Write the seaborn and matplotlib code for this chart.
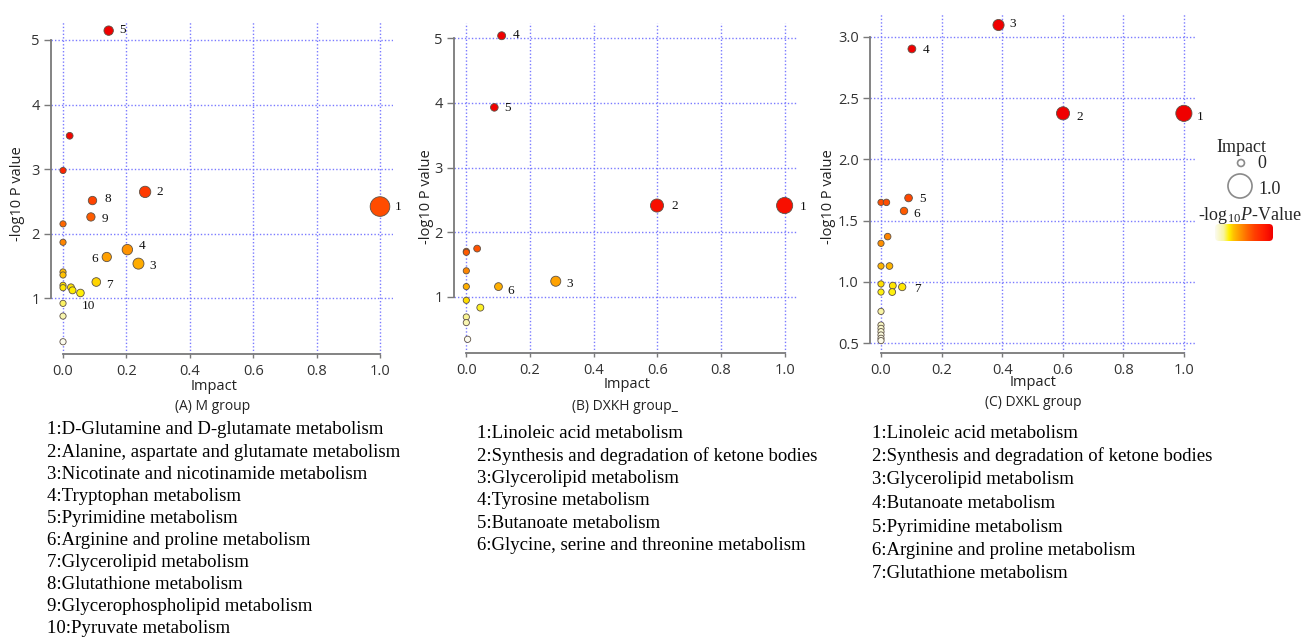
import matplotlib
matplotlib.use("Agg")
import matplotlib.pyplot as plt
import seaborn as sns
import pandas as pd
import numpy as np
from matplotlib.colors import LinearSegmentedColormap
from matplotlib.patches import FancyBboxPatch

# --- values ---
# (A) M group
a_impact = [1.0, 0.259, 0.238, 0.203, 0.144, 0.138, 0.105, 0.093, 0.088, 0.055,
            0.021, 0.0, 0.0, 0.0, 0.0, 0.0, 0.0, 0.0, 0.025, 0.030, 0.0, 0.0, 0.0]
a_logp = [2.418, 2.645, 1.533, 1.750, 5.145, 1.636, 1.248, 2.511, 2.257, 1.078,
          3.515, 2.977, 2.149, 1.864, 1.404, 1.357, 1.197, 1.160, 1.166, 1.119, 0.917, 0.720, 0.322]
a_ids = ["1", "2", "3", "4", "5", "6", "7", "8", "9", "10"]
a_names = ["D-Glutamine and D-glutamate metabolism",
           "Alanine, aspartate and glutamate metabolism",
           "Nicotinate and nicotinamide metabolism",
           "Tryptophan metabolism",
           "Pyrimidine metabolism",
           "Arginine and proline metabolism",
           "Glycerolipid metabolism",
           "Glutathione metabolism",
           "Glycerophospholipid metabolism",
           "Pyruvate metabolism"]

# (B) DXKH group
b_impact = [1.0, 0.599, 0.281, 0.111, 0.088, 0.101,
            0.034, 0.0, 0.0, 0.0, 0.0, 0.0, 0.044, 0.0, 0.0, 0.004]
b_logp = [2.414, 2.414, 1.243, 5.040, 3.932, 1.160,
          1.748, 1.705, 1.690, 1.404, 1.160, 0.948, 0.835, 0.690, 0.603, 0.345]
b_ids = ["1", "2", "3", "4", "5", "6"]
b_names = ["Linoleic acid metabolism",
           "Synthesis and degradation of ketone bodies",
           "Glycerolipid metabolism",
           "Tyrosine metabolism",
           "Butanoate metabolism",
           "Glycine, serine and threonine metabolism"]

# (C) DXKL group
c_impact = [1.0, 0.601, 0.388, 0.102, 0.091, 0.076, 0.070,
            0.0, 0.018, 0.022, 0.0, 0.0, 0.028, 0.0, 0.039, 0.0, 0.037, 0.0,
            0.0, 0.0, 0.0, 0.0, 0.0, 0.0]
c_logp = [2.375, 2.375, 3.095, 2.900, 1.685, 1.579, 0.959,
          1.649, 1.649, 1.370, 1.315, 1.130, 1.130, 0.984, 0.970, 0.918, 0.918, 0.760,
          0.649, 0.622, 0.595, 0.568, 0.541, 0.522]
c_ids = ["1", "2", "3", "4", "5", "6", "7"]
c_names = ["Linoleic acid metabolism",
           "Synthesis and degradation of ketone bodies",
           "Glycerolipid metabolism",
           "Butanoate metabolism",
           "Pyrimidine metabolism",
           "Arginine and proline metabolism",
           "Glutathione metabolism"]

x_ticks = [0.0, 0.2, 0.4, 0.6, 0.8, 1.0]

# --- style ---
sns.set_style("white")
plt.rcParams['font.family'] = ['Open Sans', 'DejaVu Sans']
plt.rcParams['mathtext.fontset'] = 'custom'
plt.rcParams['mathtext.rm'] = 'Liberation Serif'
plt.rcParams['mathtext.it'] = 'Liberation Serif:italic'

heat = LinearSegmentedColormap.from_list("heat", [
    (0.0, "#fbfbf0"), (0.15, "#f8f4a0"), (0.24, "#fff000"), (0.32, "#ffc000"),
    (0.42, "#ff9a00"), (0.55, "#ff6a00"), (0.68, "#ff4000"), (0.85, "#ff1c00"),
    (1.0, "#f00000")])

W, H = 1303, 637
fig = plt.figure(figsize=(W / 100, H / 100), dpi=100)


def px_axes(l, t, r, b):
    return fig.add_axes([l / W, 1 - b / H, (r - l) / W, (b - t) / H])


# layout: pixel box, limits, label offsets (px, right/down)
panels = [
    dict(impact=a_impact, logp=a_logp, ids=a_ids, names=a_names,
         box=(51, 22, 393, 354), xlim=(-0.0379, 1.041), ylim=(0.132, 5.279),
         yticks=[1, 2, 3, 4, 5], yfmt="{:.0f}", norm=(0.3, 3.6), sizes=(20, 200),
         offs=[(18.3, 0), (14.3, 0), (13.7, 2.3), (14.3, -3.3), (14.3, -0.7),
               (-12.3, 2.3), (13.3, 3.3), (15.3, -1.7), (13.7, 2.3), (8.3, 13.3)],
         ylab=(18, 194), xlab=(214, 387), cap=(213, 407), caption="(A) M group",
         list_xy=(47, 430), list_step=22.1),
    dict(impact=b_impact, logp=b_logp, ids=b_ids, names=b_names,
         box=(454, 23, 798, 353), xlim=(-0.0387, 1.042), ylim=(0.133, 5.237),
         yticks=[1, 2, 3, 4, 5], yfmt="{:.0f}", norm=(0.33, 2.6), sizes=(20, 135),
         offs=[(18.7, 1.3), (18, 0.7), (14.3, 2.3), (14.3, -0.7), (13.3, 0.3), (12.3, 4.7)],
         ylab=(426, 197), xlab=(627, 385), cap=(625, 406), caption="(B) DXKH group_",
         list_xy=(477, 433), list_step=22.6),
    dict(impact=c_impact, logp=c_logp, ids=c_ids, names=c_names,
         box=(870, 13, 1196, 353), xlim=(-0.0363, 1.040), ylim=(0.421, 3.193),
         yticks=[0.5, 1.0, 1.5, 2.0, 2.5, 3.0], yfmt="{:.1f}", norm=(0.5, 2.3), sizes=(20, 135),
         offs=[(16.3, 3.3), (17, 4), (14, -1), (14, 1.3), (14, 1), (12.7, 2.7), (15.3, 1.7)],
         ylab=(828, 197), xlab=(1033, 383), cap=(1033, 403), caption="(C) DXKL group",
         list_xy=(872, 433), list_step=23.5),
]

for p in panels:
    ax = px_axes(*p["box"])
    df = pd.DataFrame({"impact": p["impact"], "logp": p["logp"]})
    sns.scatterplot(data=df, x="impact", y="logp", hue="logp", palette=heat,
                    hue_norm=p["norm"], size="impact", sizes=p["sizes"], size_norm=(0, 1),
                    edgecolor="#5e5246", linewidth=0.6, legend=False, ax=ax, zorder=3)
    ax.set_xlim(*p["xlim"])
    ax.set_ylim(*p["ylim"])
    ax.set_xticks(x_ticks)
    ax.set_xticklabels([f"{t:.1f}" for t in x_ticks])
    ax.set_yticks(p["yticks"])
    ax.set_yticklabels([p["yfmt"].format(t) for t in p["yticks"]])
    ax.grid(True, color="#7a7aff", linestyle=(0, (1, 1.5)), linewidth=1.0)
    ax.set_axisbelow(True)
    for side in ["top", "right"]:
        ax.spines[side].set_visible(False)
    for side in ["left", "bottom"]:
        ax.spines[side].set_color("#7a7a7a")
        ax.spines[side].set_linewidth(1.3)
    ax.spines["left"].set_bounds(p["yticks"][0], p["yticks"][-1])
    ax.spines["bottom"].set_bounds(0, 1)
    ax.tick_params(axis="y", direction="out", length=5, width=1, color="#7a7a7a",
                   pad=3, labelsize=10.5, labelcolor="#333333", left=True)
    ax.tick_params(axis="x", direction="out", length=3, width=1, color="#7a7a7a",
                   pad=4, labelsize=10.5, labelcolor="#333333", bottom=True)
    ax.set_xlabel("")
    ax.set_ylabel("")
    # numbered labels next to the highlighted pathways
    for i, lab in enumerate(p["ids"]):
        dx, dy = p["offs"][i]
        ax.annotate(lab, (p["impact"][i], p["logp"][i]), xytext=(dx * 0.72, -dy * 0.72),
                    textcoords="offset points", ha="center", va="center",
                    fontsize=9.5, family="Liberation Serif", color="#111111")
    fig.text(p["ylab"][0] / W, 1 - p["ylab"][1] / H, "-log10 P value", rotation=90,
             ha="center", va="center", fontsize=10.5, color="#222222")
    fig.text(p["xlab"][0] / W, 1 - p["xlab"][1] / H, "Impact",
             ha="center", va="center", fontsize=10.5, color="#222222")
    fig.text(p["cap"][0] / W, 1 - p["cap"][1] / H, p["caption"],
             ha="center", va="center", fontsize=10, color="#222222")
    lx, ly = p["list_xy"]
    for j, name in enumerate(p["names"]):
        fig.text(lx / W, 1 - (ly + j * p["list_step"]) / H, f"{j + 1}:{name}",
                 ha="left", va="center", fontsize=13.5, family="Liberation Serif",
                 color="#000000")

# --- legend (impact size + colour key) ---
ov = fig.add_axes([0, 0, 1, 1])
ov.set_xlim(0, W)
ov.set_ylim(H, 0)
ov.axis("off")
ov.text(1241, 147, "Impact", ha="center", va="center", fontsize=13,
        family="Liberation Serif")
ov.scatter([1241, 1240], [163, 186], s=[25, 300], facecolors="none",
           edgecolors="#8a8a8a", linewidths=1.2)
ov.text(1257, 164, "0", ha="left", va="center", fontsize=13, family="Liberation Serif")
ov.text(1258, 190, "1.0", ha="left", va="center", fontsize=13, family="Liberation Serif")
ov.text(1250, 215, r"-log$_{10}$$\it{P}$-Value", ha="center", va="center", fontsize=13,
        family="Liberation Serif")
grad = np.linspace(0, 1, 256).reshape(1, -1)
im = ov.imshow(grad, cmap=heat, aspect="auto", extent=(1215, 1273, 241, 224))
clip = FancyBboxPatch((1215, 224), 58, 17, boxstyle="round,pad=0,rounding_size=4",
                      transform=ov.transData, facecolor="none", edgecolor="none")
ov.add_patch(clip)
im.set_clip_path(clip)
ov.set_xlim(0, W)
ov.set_ylim(H, 0)

fig.savefig("out.png", dpi=100)
